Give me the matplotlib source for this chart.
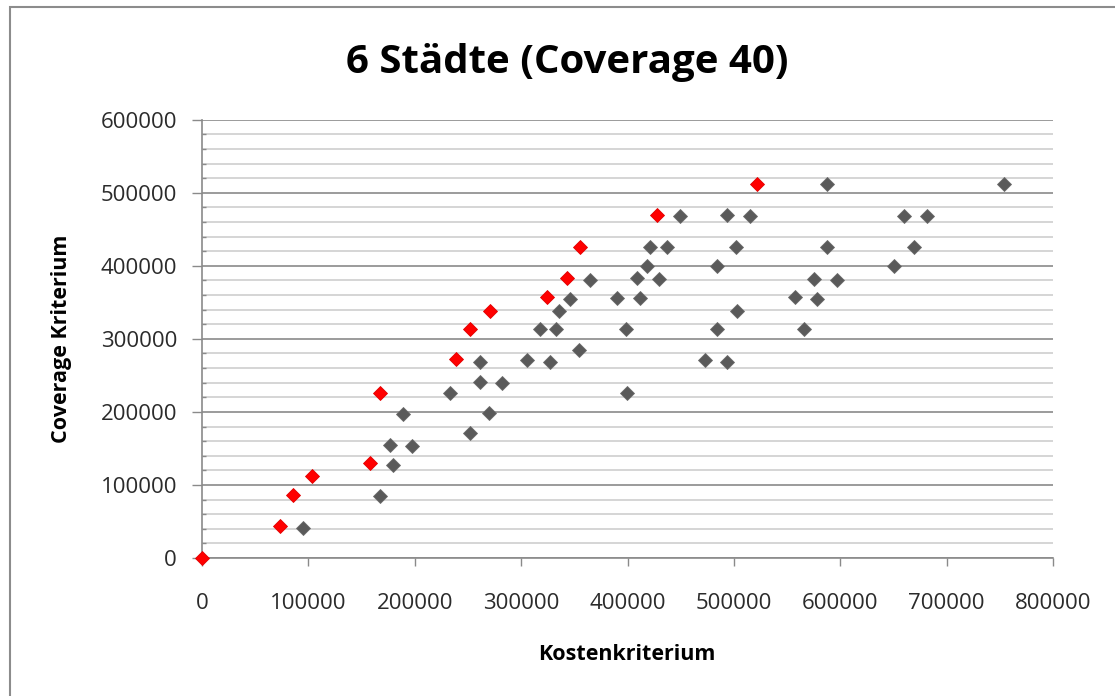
import numpy as np
import matplotlib.pyplot as plt
from matplotlib.patches import Rectangle
from matplotlib.ticker import MultipleLocator

plt.rcParams['font.family'] = ['Open Sans', 'DejaVu Sans']

# Pareto-optimale Punkte (rot)
rot_x = [0, 73000, 85500, 103800, 157600, 167000, 239100, 251600, 271000,
         324600, 342800, 355000, 427700, 521300]
rot_y = [0, 43800, 85800, 112200, 129600, 226300, 272000, 313900, 338600,
         357300, 383700, 426200, 469500, 512400]

# alle anderen Punkte (grau)
grau_x = [94900, 167000, 179600, 176400, 197700, 189000, 251600, 269700, 232800,
          261000, 282300, 261600, 305500, 326800, 354300, 317400, 333100, 335500,
          345600, 364400, 390000, 398900, 399800, 411700, 408600, 429900, 418600,
          420800, 437000, 449600, 483700, 484600, 472500, 493800, 502800, 502200,
          493400, 515000, 587100, 557000, 578300, 575200, 596500, 565800, 587400,
          650700, 660100, 681700, 669200, 753800]
grau_y = [40600, 84900, 126900, 155100, 153300, 197100, 171500, 198000, 226300,
          241400, 240000, 268700, 271000, 268300, 284300, 313000, 313000, 338100,
          355000, 381000, 356300, 313000, 226300, 355400, 382800, 381400, 399700,
          425700, 425700, 467800, 399700, 313000, 270600, 268700, 338600, 425700,
          469500, 467800, 512000, 356800, 355000, 382300, 381000, 313000, 425700,
          399700, 468800, 467800, 425700, 512000]

W, H = 1115, 696
fig = plt.figure(figsize=(W / 100, H / 100), dpi=100)
ax = fig.add_axes([202 / W, 1 - 558 / H, (1053 - 202) / W, (558 - 119.7) / H])

# Rahmen um das Diagramm
fig.patches.append(Rectangle((10 / W, -0.1), 1.2, 1 - 7 / H + 0.1, transform=fig.transFigure,
                             fill=False, edgecolor='#8c8c8c', linewidth=1.5))

ax.set_xlim(0, 800000)
ax.set_ylim(0, 600000)
ax.xaxis.set_major_locator(MultipleLocator(100000))
ax.yaxis.set_major_locator(MultipleLocator(100000))
ax.yaxis.set_minor_locator(MultipleLocator(20000))

ax.grid(True, axis='y', which='minor', color='#d2d2d2', linewidth=1.3, zorder=0)
ax.grid(True, axis='y', which='major', color='#8a8a8a', linewidth=1.2, zorder=0)

for s in ['top', 'right']:
    ax.spines[s].set_visible(False)
for s in ['left', 'bottom']:
    ax.spines[s].set_color('#8a8a8a')
    ax.spines[s].set_linewidth(1.2)

ax.tick_params(axis='y', which='major', direction='out', length=7, width=1,
               color='#8a8a8a', pad=11, labelsize=16, labelcolor='#2b2b2b')
ax.tick_params(axis='y', which='minor', direction='in', length=3, width=1,
               color='#8a8a8a')
ax.tick_params(axis='x', which='major', direction='out', length=6, width=1,
               color='#8a8a8a', pad=19, labelsize=16, labelcolor='#2b2b2b')

ax.plot(grau_x, grau_y, 'D', color='#5a5a5a', markersize=6.8,
        markeredgecolor='#6a6a6a', markeredgewidth=0.6, zorder=3, clip_on=False)
ax.plot(rot_x, rot_y, 'D', color='#ff0000', markersize=6.8,
        markeredgecolor='#e00000', markeredgewidth=0.6, zorder=4, clip_on=False)

fig.text(567 / W, 1 - 62 / H, '6 Städte (Coverage 40)', ha='center', va='center',
         fontsize=29, fontweight='bold')
fig.text(627 / W, 1 - 655 / H, 'Kostenkriterium', ha='center', va='center',
         fontsize=15.5, fontweight='bold')
fig.text(62 / W, 1 - 339 / H, 'Coverage Kriterium', ha='center', va='center',
         rotation=90, fontsize=15.5, fontweight='bold')

fig.savefig('out.png', dpi=100)
